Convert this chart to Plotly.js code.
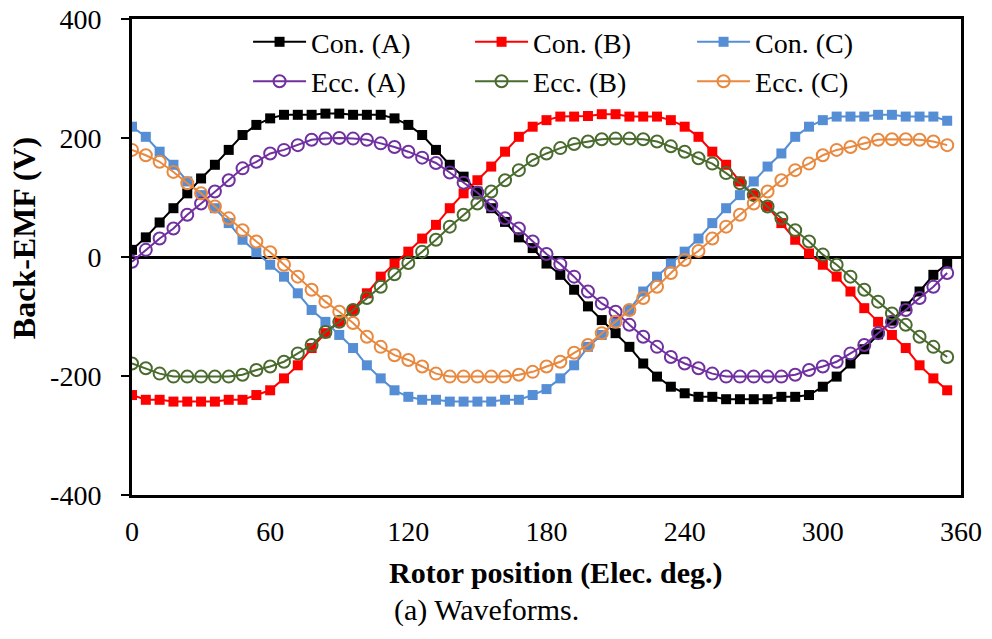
<!DOCTYPE html>
<html><head><meta charset="utf-8">
<script src="https://cdn.plot.ly/plotly-3.0.1.min.js"></script>
<style>html,body{margin:0;padding:0;background:#fff}#chart{width:992px;height:639px}</style>
</head><body><div id="chart"></div>
<script>
const rotorPosition = [0,6,12,18,24,30,36,42,48,54,60,66,72,78,84,90,96,102,108,114,120,126,132,138,144,150,156,162,168,174,180,186,192,198,204,210,216,222,228,234,240,246,252,258,264,270,276,282,288,294,300,306,312,318,324,330,336,342,348,354];

const conA = [12,33,58,82,107,132,155,180,205,222,233,239,239,239,241,241,239,239,239,233,222,205,180,155,135,110,82,59,33,15,
  -11,-30,-55,-83,-106,-128,-151,-179,-201,-218,-229,-235,-235,-239,-239,-239,-239,-235,-235,-232,-218,-201,-179,-155,-130,-107,-83,-58,-30,-11];
const conB = [-232,-240,-240,-243,-243,-243,-243,-240,-240,-232,-224,-204,-182,-153,-128,-109,-89,-61,-33,-11,9,31,54,82,107,129,152,177,202,219,
  230,236,236,237,240,240,236,236,236,230,219,202,177,155,127,104,85,57,29,6,-13,-33,-58,-86,-109,-131,-153,-182,-204,-224];
const conC = [219,202,177,155,127,104,82,57,29,8,-13,-33,-61,-89,-109,-131,-153,-182,-204,-224,-235,-240,-240,-243,-243,-243,-243,-240,-240,-232,
  -222,-204,-182,-151,-131,-109,-89,-58,-33,-11,9,31,57,82,104,127,152,174,202,219,230,236,236,236,239,239,236,236,236,229];
const eccA = [-8,12,31,48,71,90,110,129,149,160,174,180,188,197,199,200,199,197,191,185,177,167,158,142,125,108,87,65,48,26,
  5,-12,-33,-58,-78,-92,-114,-134,-151,-168,-179,-187,-196,-201,-201,-201,-201,-201,-198,-190,-184,-176,-162,-148,-128,-109,-89,-69,-50,-27];
const eccB = [-179,-187,-196,-201,-201,-201,-201,-201,-198,-190,-184,-176,-162,-148,-126,-109,-89,-69,-50,-29,-10,9,29,51,71,90,110,129,146,163,
  174,183,190,194,198,199,199,198,194,186,177,166,157,141,124,104,85,65,45,26,4,-13,-33,-55,-75,-95,-114,-134,-151,-168];
const eccC = [180,171,160,143,124,107,85,65,45,26,8,-13,-33,-55,-75,-92,-111,-134,-151,-165,-173,-184,-196,-201,-201,-201,-201,-201,-198,-193,
  -184,-176,-161,-148,-128,-109,-89,-69,-50,-27,-5,10,31,51,71,90,110,129,146,157,171,180,185,191,197,198,198,197,194,188];

const seriesNames = ['Con. (A)','Con. (B)','Con. (C)','Ecc. (A)','Ecc. (B)','Ecc. (C)'];
const seriesValues = [conA, conB, conC, eccA, eccB, eccC];
const seriesColors = ['#000000','#FF0000','#558ED5','#7030A0','#4A6B2E','#E8893F'];
const xTickLabels = ['0','60','120','180','240','300','360'];
const yTickLabels = ['-400','-200','0','200','400'];

const FONT = "'Liberation Serif', 'Times New Roman', serif";

const traces = seriesValues.map((vals, i) => {
  const isCon = i < 3;
  return {
    type: 'scatter', mode: 'lines+markers',
    x: rotorPosition, y: vals, name: seriesNames[i],
    line: {color: seriesColors[i], width: 2},
    marker: isCon
      ? {symbol: 'square', size: 10, color: seriesColors[i]}
      : {symbol: 'circle-open', size: 12, color: seriesColors[i], line: {width: 2, color: seriesColors[i]}}
  };
});

const layout = {
  width: 992, height: 639,
  margin: {l: 132, r: 31, t: 19, b: 144},
  paper_bgcolor: '#ffffff', plot_bgcolor: '#ffffff',
  font: {family: FONT, size: 28, color: '#000'},
  showlegend: true,
  legend: {
    orientation: 'h', x: 0.14, xanchor: 'left', y: 1.004, yanchor: 'top',
    entrywidth: 154, entrywidthmode: 'pixels', itemwidth: 53,
    font: {family: FONT, size: 28, color: '#000'},
    bgcolor: 'rgba(0,0,0,0)', tracegroupgap: 0
  },
  xaxis: {
    range: [0, 360], tickvals: xTickLabels.map(Number), ticktext: xTickLabels,
    showgrid: false, zeroline: false, showline: true, mirror: true,
    linecolor: '#000', linewidth: 3, ticks: '', ticklabelstandoff: 9,
    tickfont: {family: FONT, size: 28, color: '#000'}
  },
  yaxis: {
    range: [-400, 400], tickvals: yTickLabels.map(Number), ticktext: yTickLabels,
    showgrid: false, zeroline: true, zerolinecolor: '#000', zerolinewidth: 3,
    showline: true, mirror: true, linecolor: '#000', linewidth: 3,
    ticks: 'outside', ticklen: 8, tickwidth: 2, tickcolor: '#000', ticklabelstandoff: 14,
    tickfont: {family: FONT, size: 28, color: '#000'}
  },
  annotations: [
    {text: '<b>Rotor position (Elec. deg.)</b>', xref: 'paper', yref: 'paper', x: 0.5115, y: -0.164,
     xanchor: 'center', yanchor: 'middle', showarrow: false, font: {family: FONT, size: 30, color: '#000'}},
    {text: '<b>Back-EMF (V)</b>', xref: 'paper', yref: 'paper', x: -0.13, y: 0.54, textangle: -90,
     xanchor: 'center', yanchor: 'middle', showarrow: false, font: {family: FONT, size: 32, color: '#000'}},
    {text: '(a) Waveforms.', xref: 'paper', yref: 'paper', x: 0.428, y: -0.2425,
     xanchor: 'center', yanchor: 'middle', showarrow: false, font: {family: FONT, size: 30, color: '#000'}}
  ]
};

Plotly.newPlot('chart', traces, layout, {displayModeBar: false, staticPlot: true});
</script>
</body></html>
